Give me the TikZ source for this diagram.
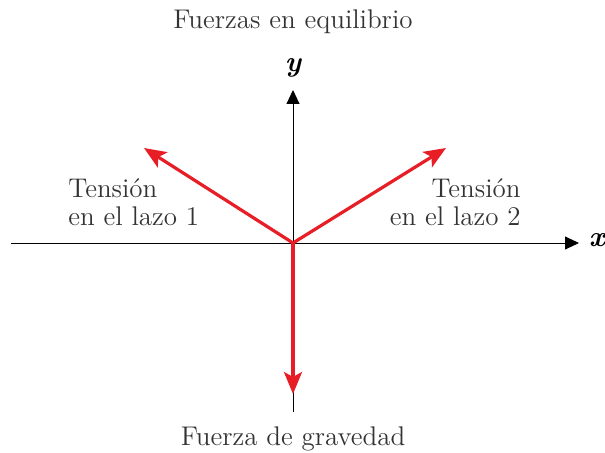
\documentclass[tikz,border=0pt]{standalone}
\usetikzlibrary{arrows.meta}
\definecolor{fuerza}{RGB}{232,30,38}
\tikzset{
  eje/.style={line width=0.45pt,-{Triangle[length=7pt,width=6.5pt]}},
  vector/.style={fuerza,line width=1.6pt,-{Stealth[length=11pt,width=9pt,inset=2.5pt]}},
  rotulo/.style={font=\fontsize{13.5}{14}\selectfont,text=black!80,inner sep=0pt}
}
\begin{document}
\begin{tikzpicture}[x=0.5pt,y=-0.5pt]
    \useasboundingbox (0,0) rectangle (605,453);
    \coordinate (O) at (293,243);
    \coordinate (xi) at (11,243);
    \coordinate (xf) at (579,243);
    \coordinate (yi) at (293,412);
    \coordinate (yf) at (293,90);
    \coordinate (t1) at (144,148);
    \coordinate (t2) at (446,148);
    \coordinate (g) at (293,394);
    % ejes
    \draw[eje] (xi) -- (xf);
    \draw[eje] (yi) -- (yf);
    \node[font=\Large\bfseries\itshape] (lx) at (597,240) {x};
    \node[font=\Large\bfseries\itshape] (ly) at (293,68) {y};
    % fuerzas
    \draw[vector] (O) -- (t1);
    \draw[vector] (O) -- (t2);
    \draw[vector] (O) -- (g);
    % textos
    \node[rotulo] (titulo) at (293,22) {Fuerzas en equilibrio};
    \node[rotulo,anchor=north west,align=left] (lazo1) at (68,178) {Tensión\\en el lazo 1};
    \node[rotulo,anchor=north east,align=right] (lazo2) at (521,178) {Tensión\\en el lazo 2};
    \node[rotulo] (peso) at (293,439) {Fuerza de gravedad};
\end{tikzpicture}
\end{document}
